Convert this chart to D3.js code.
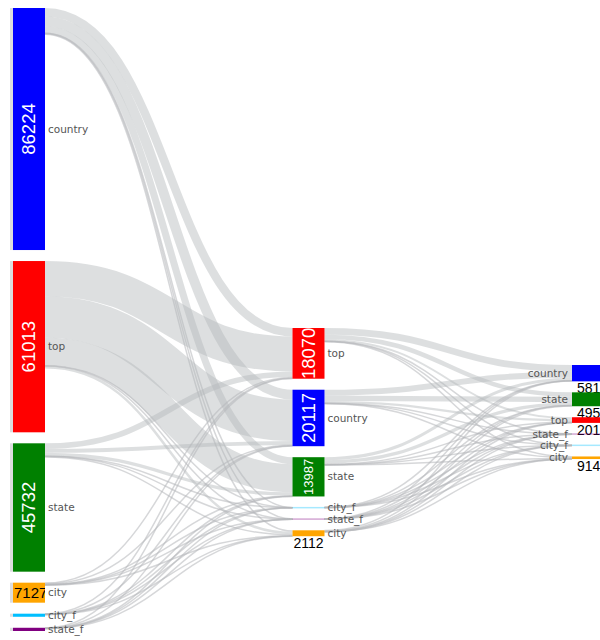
<!DOCTYPE html>
<html><head><meta charset="utf-8">
<script src="https://cdn.jsdelivr.net/npm/d3@7"></script>
<style>body{margin:0;background:#fff;overflow:hidden}</style>
</head><body><svg id="c" width="600" height="640"></svg>
<script>
// ---- data ----
const stage1Names = ["country", "top", "state", "city", "city_f", "state_f"];
const stage1Values = [86224, 61013, 45732, 7127, 1100, 1150];
const stage2Names = ["top", "country", "state", "city_f", "state_f", "city"];
const stage2Values = [18070, 20117, 13987, 150, 150, 2112];
const stage3Names = ["country", "state", "top", "state_f", "city_f", "city"];
const stage3Values = [5819, 4953, 2017, 100, 100, 914];
// rows: stage-1 nodes, cols: stage-2 nodes
const flows12 = [
  [3000, 3500, 2500, 40, 40, 500],
  [12500, 14800, 10000, 40, 40, 900],
  [2000, 1400, 1200, 30, 30, 400],
  [300, 250, 200, 20, 20, 250],
  [150, 90, 50, 10, 10, 30],
  [120, 77, 37, 10, 10, 32]
];
// rows: stage-2 nodes, cols: stage-3 nodes
const flows23 = [
  [2400, 1600, 700, 30, 30, 250],
  [2100, 1900, 800, 30, 30, 350],
  [1100, 1200, 400, 20, 20, 250],
  [20, 20, 10, 5, 5, 10],
  [20, 20, 10, 5, 5, 10],
  [179, 213, 97, 10, 10, 44]
];
const types = ["country", "top", "state", "city", "city_f", "state_f"];

// ---- layout ----
const color = d3.scaleOrdinal().domain(types)
  .range(["#0000ff", "#ff0000", "#008000", "#ffa500", "#00bfff", "#800080"]);
const nodeWidth = 32, nodePad = 11, extentY = [8, 631];
const colX = d3.scalePoint().domain([0, 1, 2]).range([13, 572]);
const colTop = [8, 328, 365];
const belowOffset = [1, 1, 5];
const stages = [
  {names: stage1Names, values: stage1Values},
  {names: stage2Names, values: stage2Values},
  {names: stage3Names, values: stage3Values}
];
const ky = d3.min(stages, s => (extentY[1] - extentY[0] - (s.values.length - 1) * nodePad) / d3.sum(s.values));
const hScale = d3.scaleLinear().domain([0, 1]).range([0, ky]);

const cols = stages.map((s, i) => {
  let y = colTop[i];
  return s.names.map((name, j) => {
    const n = {name, value: s.values[j], col: i, x0: colX(i), x1: colX(i) + nodeWidth,
      y0: y, y1: y + hScale(s.values[j]), sourceLinks: [], targetLinks: []};
    y = n.y1 + nodePad;
    return n;
  });
});
const nodes = cols.flat();
const links = [];
[[flows12, 0], [flows23, 1]].forEach(([m, c]) => {
  m.forEach((row, i) => row.forEach((v, j) => {
    const l = {source: cols[c][i], target: cols[c + 1][j], value: v, width: hScale(v)};
    l.source.sourceLinks.push(l); l.target.targetLinks.push(l);
    links.push(l);
  }));
});
nodes.forEach(n => {
  n.sourceLinks.sort((a, b) => a.target.y0 - b.target.y0);
  n.targetLinks.sort((a, b) => a.source.y0 - b.source.y0);
  let y = n.y0;
  n.sourceLinks.forEach(l => { l.y0 = y + l.width / 2; y += l.width; });
  y = n.y0;
  n.targetLinks.forEach(l => { l.y1 = y + l.width / 2; y += l.width; });
});

// ---- draw ----
const svg = d3.select("#c");
const defs = svg.append("defs");
const linkPath = d3.linkHorizontal();

svg.append("g").selectAll("path").data(links).join("path")
  .attr("d", l => linkPath({source: [l.source.x1, l.y0], target: [l.target.x0, l.y1]}))
  .attr("fill", "none")
  .attr("stroke", "#b4b7ba")
  .attr("stroke-opacity", l => l.width < 1.5 ? 0.55 : 0.45)
  .attr("stroke-width", l => Math.max(1.5, l.width));

// left strip behind first-column nodes
svg.append("g").selectAll("rect").data(cols[0]).join("rect")
  .attr("x", d => d.x0 - 3).attr("y", d => d.y0)
  .attr("width", 3).attr("height", d => Math.max(1, d.y1 - d.y0))
  .attr("fill", "#dcdddf");

const ng = svg.append("g").selectAll("g").data(nodes).join("g");
ng.append("rect")
  .attr("x", d => d.x0)
  .attr("y", d => { const h = d.y1 - d.y0; return h < 1.5 ? (d.y0 + d.y1) / 2 - 0.75 : d.y0; })
  .attr("width", nodeWidth).attr("height", d => Math.max(1.5, d.y1 - d.y0))
  .attr("fill", d => color(d.name))
  .attr("fill-opacity", d => (d.y1 - d.y0) < 1 ? 0.35 : 1);

nodes.forEach((d, i) => {
  defs.append("clipPath").attr("id", "clip" + i).append("rect")
    .attr("x", d.x0).attr("y", d.y0).attr("width", nodeWidth).attr("height", d.y1 - d.y0);
  d.idx = i;
});

const valueFont = "'Liberation Sans', Arial, sans-serif";
// value labels
ng.each(function(d) {
  const g = d3.select(this);
  const h = d.y1 - d.y0, cx = (d.x0 + d.x1) / 2, cy = (d.y0 + d.y1) / 2;
  if (h >= 30) {
    g.append("g").attr("clip-path", `url(#clip${d.idx})`)
      .append("text")
      .attr("transform", `translate(${cx},${cy}) rotate(-90)`)
      .attr("text-anchor", "middle").attr("dy", "0.35em")
      .attr("fill", "#fff")
      .style("font-family", valueFont)
      .style("font-size", h >= 45 ? "18.5px" : "13px")
      .text(d.value);
  } else if (h >= 18) {
    g.append("g").attr("clip-path", `url(#clip${d.idx})`)
      .append("text")
      .attr("x", d.x0 + 1).attr("y", cy).attr("dy", "0.35em")
      .attr("fill", "#000")
      .style("font-family", valueFont)
      .style("font-size", "15px")
      .text(d.value);
  } else if (d.col > 0 && d.value >= 500) {
    g.append("text")
      .attr("x", d.x0 + belowOffset[d.col]).attr("y", d.y1 + 12)
      .attr("fill", "#000")
      .style("font-family", valueFont)
      .style("font-size", "14px")
      .text(d.value);
  }
});

// name labels
ng.append("text")
  .attr("x", d => d.col === 2 ? d.x0 - 4 : d.x1 + 3)
  .attr("y", d => (d.y0 + d.y1) / 2)
  .attr("dy", "0.35em")
  .attr("text-anchor", d => d.col === 2 ? "end" : "start")
  .attr("fill", "#555")
  .style("font-family", "'DejaVu Sans', Verdana, sans-serif")
  .style("font-size", "10.5px")
  .text(d => d.name);
</script>
</body></html>
